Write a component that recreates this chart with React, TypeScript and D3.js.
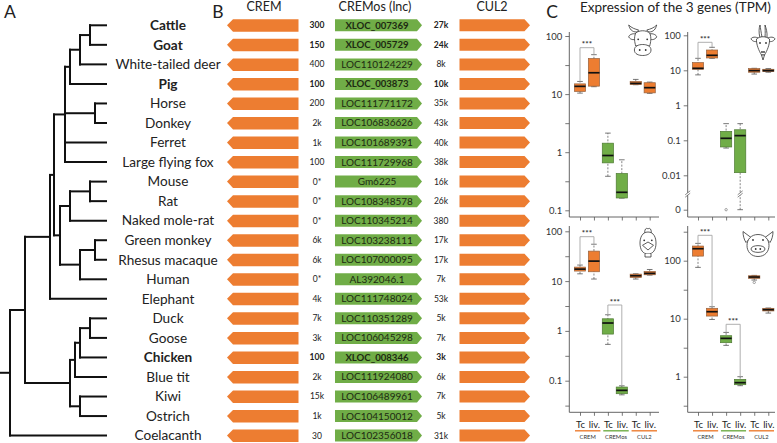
import React, { useRef, useEffect } from 'react';
import * as d3 from 'd3';

const FONT = 'Lato, Carlito, sans-serif';
const ORANGE = '#ed7d31';
const GREEN = '#70ad47';

// Panel A + B rows
const species = ['Cattle', 'Goat', 'White-tailed deer', 'Pig', 'Horse', 'Donkey', 'Ferret', 'Large flying fox', 'Mouse', 'Rat', 'Naked mole-rat', 'Green monkey', 'Rhesus macaque', 'Human', 'Elephant', 'Duck', 'Goose', 'Chicken', 'Blue tit', 'Kiwi', 'Ostrich', 'Coelacanth'];
const cremDistance = ['300', '150', '400', '100', '200', '2k', '1k', '100', '0*', '0*', '0*', '6k', '6k', '0*', '4k', '7k', '3k', '100', '2k', '15k', '1k', '30'];
const lncNames = ['XLOC_007369', 'XLOC_005729', 'LOC110124229', 'XLOC_003873', 'LOC111771172', 'LOC106836626', 'LOC101689391', 'LOC111729968', 'Gm6225', 'LOC108348578', 'LOC110345214', 'LOC103238111', 'LOC107000095', 'AL392046.1', 'LOC111748024', 'LOC110351289', 'LOC106045298', 'XLOC_008346', 'LOC111924080', 'LOC106489961', 'LOC104150012', 'LOC102356018'];
const cul2Distance = ['27k', '24k', '8k', '10k', '35k', '43k', '40k', '38k', '16k', '26k', '380', '17k', '17k', '7k', '53k', '5k', '7k', '3k', '6k', '7k', '5k', '31k'];
const boldSpecies = ['Cattle', 'Goat', 'Pig', 'Chicken'];

// tree: d = node depth, leaves sit at leafDepth
interface TreeNode { name?: string; d?: number; children?: TreeNode[] }
const leafDepth = 53;
const leaf = (name: string): TreeNode => ({ name });
const tree: TreeNode = {
  d: 5, children: [
    {
      d: 12.5, children: [
        {
          d: 25, children: [
            {
              d: 27, children: [
                {
                  d: 32.5, children: [
                    {
                      d: 35, children: [
                        { d: 40, children: [{ d: 45, children: [leaf('Cattle'), leaf('Goat')] }, leaf('White-tailed deer')] },
                        leaf('Pig'),
                      ],
                    },
                    { d: 47.5, children: [leaf('Horse'), leaf('Donkey')] },
                    leaf('Ferret'),
                    leaf('Large flying fox'),
                  ],
                },
                {
                  d: 30, children: [
                    { d: 35, children: [{ d: 45, children: [leaf('Mouse'), leaf('Rat')] }, leaf('Naked mole-rat')] },
                    { d: 40, children: [{ d: 47.5, children: [leaf('Green monkey'), leaf('Rhesus macaque')] }, leaf('Human')] },
                  ],
                },
              ],
            },
            leaf('Elephant'),
          ],
        },
        {
          d: 35, children: [
            {
              d: 37.5, children: [
                { d: 40, children: [{ d: 45, children: [leaf('Duck'), leaf('Goose')] }, leaf('Chicken')] },
                leaf('Blue tit'),
              ],
            },
            { d: 40, children: [leaf('Kiwi'), leaf('Ostrich')] },
          ],
        },
      ],
    },
    leaf('Coelacanth'),
  ],
};

// Panel C: [low whisker, q1, median, q3, high whisker]
type Box = number[];
const cattleBoxes: Box[] = [[10.4, 11.1, 13.6, 15, 16.5], [13.4, 13.7, 23.3, 41, 47.7], [0.385, 0.655, 0.877, 1.43, 2.13], [0.162, 0.163, 0.204, 0.43, 0.74], [14.5, 14.6, 15.3, 16.5, 17.9], [10.3, 10.5, 12.9, 15.7, 16.1]];
const goatBoxes: Box[] = [[7.4, 10.7, 11.4, 16.6, 22], [22, 22.5, 26.8, 38, 45.4], [0.06, 0.0645, 0.114, 0.18, 0.299], [0, 0.0119, 0.136, 0.2, 0.299], [7.8, 8.8, 9.8, 11.2, 11.4], [8.8, 9.2, 9.8, 10.7, 11.2]];
const chickenBoxes: Box[] = [[14, 15.9, 17.4, 19.1, 21], [11, 15.4, 25.2, 40, 55], [0.536, 0.863, 1.44, 1.75, 2.11], [0.052, 0.0548, 0.064, 0.0746, 0.079], [11, 11.8, 12.8, 13.8, 14], [13.2, 13.4, 14.3, 15.6, 17.1]];
const pigBoxes: Box[] = [[76.7, 120, 161, 179, 199], [9.7, 11.1, 13.2, 15.1, 16.1], [3.47, 3.86, 4.58, 5.09, 5.8], [0.7, 0.728, 0.789, 0.9, 1.0], [46.4, 49.6, 52.3, 55, 55.8], [12.5, 13.6, 14.3, 15.1, 15.3]];
const sampleLabels = ['Tc', 'liv.', 'Tc', 'liv.', 'Tc', 'liv.'];
const groupLabels = ['CREM', 'CREMos', 'CUL2'];
const groupColors = [ORANGE, GREEN, ORANGE];

interface Panel {
  boxes: Box[];
  left: number;
  right: number;
  xRange: [number, number];
  top: number;
  bottom: number;
  domain: [number, number];
  range: [number, number];
  ticks: number[];
  minor: number[];
  zeroY?: number;
  breakY?: number;
  outliers?: [number, number][];
  brackets: [number, number, number, number, number][]; // box a, box b, top px, leg a value, leg b value
  labels?: boolean;
  groupRange?: [number, number];
}

const panels: Panel[] = [
  {
    boxes: cattleBoxes, left: 569.3, right: 659, xRange: [580, 649.7], top: 32, bottom: 217,
    domain: [0.1, 100], range: [210.3, 36], ticks: [100, 10, 1, 0.1], minor: [31.6, 3.16, 0.316],
    brackets: [[0, 1, 47.7, 16.5, 47.7]],
  },
  {
    boxes: goatBoxes, left: 687.7, right: 775, xRange: [698, 768.3], top: 32, bottom: 217,
    domain: [0.01, 100], range: [175.3, 35.3], ticks: [100, 10, 1, 0.1, 0.01], minor: [],
    zeroY: 209.7, breakY: 194, outliers: [[2, 0]],
    brackets: [[0, 1, 42.3, 22, 45.4]],
  },
  {
    boxes: chickenBoxes, left: 569.3, right: 659, xRange: [580, 649.7], top: 226, bottom: 412.3,
    domain: [0.1, 100], range: [380.7, 231.3], ticks: [100, 10, 1, 0.1], minor: [31.6, 3.16, 0.316, 0.0316],
    brackets: [[0, 1, 236.7, 21, 55], [2, 3, 305, 2.11, 0.079]], labels: true,
    groupRange: [575, 657],
  },
  {
    boxes: pigBoxes, left: 687.7, right: 775, xRange: [698, 768.3], top: 226, bottom: 412.3,
    domain: [1, 100], range: [376.7, 260.7], ticks: [100, 10, 1], minor: [316, 31.6, 3.16, 0.316],
    outliers: [[4, 42.3]],
    brackets: [[0, 1, 235.3, 199, 16.1], [2, 3, 324.3, 5.8, 1.0]], labels: true,
    groupRange: [693, 774],
  },
];

const drawIcons = (svg: d3.Selection<SVGSVGElement, unknown, null, undefined>) => {
  const g = svg.append('g').attr('fill', 'none').attr('stroke', '#333').attr('stroke-width', 0.8);
  const icon = (x: number, y: number, paths: string[], dots: [number, number][]) => {
    const ig = g.append('g').attr('transform', `translate(${x},${y})`);
    paths.forEach(p => ig.append('path').attr('d', p).attr('fill', 'white'));
    dots.forEach(([cx, cy]) => ig.append('circle').attr('cx', cx).attr('cy', cy).attr('r', 0.9).attr('fill', '#333').attr('stroke', 'none'));
  };
  // cow
  icon(642.7, 41, [
    'M-6,-9 C-11,-9 -13,-12 -14,-16 C-11,-13 -8,-12 -4,-11 Z',
    'M6,-9 C11,-9 13,-12 14,-16 C11,-13 8,-12 4,-11 Z',
    'M-7,-7 C-10,-8 -14,-6 -14,-4 C-12,-1 -9,-1 -7,-2 Z',
    'M7,-7 C10,-8 14,-6 14,-4 C12,-1 9,-1 7,-2 Z',
    'M-7,-8 C-3,-11 3,-11 7,-8 C9,-3 8,1 7,5 L-7,5 C-8,1 -9,-3 -7,-8 Z',
    'M-8.3,9 C-8.3,5 -4,3.5 0,3.5 C4,3.5 8.3,5 8.3,9 C8.3,13 4,14.5 0,14.5 C-4,14.5 -8.3,13 -8.3,9 Z',
  ], [[-4.5, -1.7], [4.5, -1.7], [-3, 9], [3, 9]]);
  // goat
  icon(763, 42, [
    'M-3,-4 C-4.5,-10 -4,-14 -3,-17 C-2.5,-14 -2,-10 -1,-5 Z',
    'M2,-5 C2.5,-10 2,-14 2,-17 C3,-14 4.5,-10 4,-4 Z',
    'M-5,-4 C-9,-6 -12,-4 -12,-3 C-10,0 -7,0 -5,-1 Z',
    'M5,-4 C9,-6 12,-4 12,-3 C10,0 7,0 5,-1 Z',
    'M-6.5,-3 C-3,-6 3,-6 6.5,-3 C7,2 4,9 1.5,13 L-1.5,13 C-4,9 -7,2 -6.5,-3 Z',
    'M-1.5,13 L1.5,13 L0,18 Z',
  ], [[-3, 1], [3, 1], [-1, 10], [1, 10]]);
  // chicken
  icon(648, 244, [
    'M-3,-10 C-4,-14 -2,-17 0,-15 C2,-17 4,-14 3,-10 Z',
    'M0,-12 C6,-12 8,-6 8,-1 C8,6 5,10 0,10 C-5,10 -8,6 -8,-1 C-8,-6 -6,-12 0,-12 Z',
    'M-5.5,1.3 L0,-2 L5.5,1.3 L0,6 Z',
    'M-3,10 L-3,13 L3,13 L3,10',
  ], [[-3.8, -3.7], [3.8, -3.7]]);
  // pig
  icon(758, 245.5, [
    'M-7,-8 L-15,-14 C-15,-10 -14,-6 -12,-3 Z',
    'M7,-8 L15,-14 C15,-10 14,-6 12,-3 Z',
    'M0,-11 C7,-11 11,-6 11,0 C11,6 7,11 0,11 C-7,11 -11,6 -11,0 C-11,-6 -7,-11 0,-11 Z',
    'M-7,3.5 C-7,-1 7,-1 7,3.5 C7,8 -7,8 -7,3.5 Z',
  ], [[-5, -5.5], [5, -5.5], [-2.3, 3.5], [2.3, 3.5]]);
};

export default function App() {
  const svgRef = useRef<SVGSVGElement | null>(null);

  useEffect(() => {
    if (!svgRef.current) return;
    const svg = d3.select(svgRef.current);
    svg.selectAll('*').remove(); // Clear previous render
    svg.style('font-family', FONT);

    const yRow = d3.scalePoint<string>().domain(species).range([25.3, 435.6]);
    const xTree = d3.scaleLinear().domain([0, leafDepth]).range([0, 106]);

    // Panel letters
    [['A', 10, 18], ['B', 218, 18], ['C', 552, 18]].forEach(([t, x, y]) => {
      svg.append('text').attr('x', x).attr('y', y).attr('text-anchor', 'middle')
        .attr('font-size', 17.5).attr('fill', '#222').text(t as string);
    });

    // Panel A: tree
    const root = d3.hierarchy(tree);
    const nodeY = new Map<d3.HierarchyNode<TreeNode>, number>();
    root.eachAfter(n => {
      if (!n.children) nodeY.set(n, yRow(n.data.name!)!);
      else nodeY.set(n, (nodeY.get(n.children[0])! + nodeY.get(n.children[n.children.length - 1])!) / 2);
    });
    const nodeX = (n: d3.HierarchyNode<TreeNode>) => xTree(n.children ? n.data.d! : leafDepth);
    const treeG = svg.append('g').attr('fill', 'none').attr('stroke', '#111').attr('stroke-width', 2).attr('stroke-linecap', 'square');
    root.descendants().forEach(n => {
      const x = nodeX(n);
      const y = nodeY.get(n)!;
      const px = n.parent ? nodeX(n.parent) : 0;
      treeG.append('path').attr('d', `M${px},${y}H${x}`);
      if (n.children) {
        treeG.append('path').attr('d', `M${x},${nodeY.get(n.children[0])}V${nodeY.get(n.children[n.children.length - 1])}`);
      }
    });

    // Species labels + Panel B rows
    const textAt = (x: number, y: number, t: string, size: number, bold: boolean, fill = '#222') =>
      svg.append('text').attr('x', x).attr('y', y).attr('dy', '0.35em').attr('text-anchor', 'middle')
        .attr('font-size', size).attr('font-weight', bold ? 700 : 400).attr('fill', fill).text(t);

    textAt(264, 7, 'CREM', 12.5, false);
    textAt(375, 7, 'CREMos (lnc)', 12.5, false);
    textAt(492, 7, 'CUL2', 12.5, false);

    species.forEach((s, i) => {
      const y = yRow(s)!;
      const bold = boldSpecies.includes(s);
      textAt(168, y, s, 13.6, bold);
      svg.append('path').attr('fill', ORANGE)
        .attr('d', `M227,${y}L233,${y - 6}H298.5V${y + 6.5}H233Z`);
      textAt(317, y, cremDistance[i], 8.5, bold);
      svg.append('path').attr('fill', GREEN)
        .attr('d', `M335,${y - 6}H417L422,${y}L417,${y + 6}H335Z`);
      textAt(377, y, lncNames[i], bold ? 9.6 : 10, bold, '#1d2a12');
      textAt(441, y, cul2Distance[i], 8.5, bold);
      svg.append('path').attr('fill', ORANGE)
        .attr('d', `M459.5,${y - 6}H524.5L530,${y}L524.5,${y + 6}H459.5Z`);
    });

    // Panel C
    svg.append('text').attr('x', 580).attr('y', 12.4).attr('font-size', 13.5).attr('fill', '#222').text('Expression of the 3 genes (TPM)');

    panels.forEach(p => {
      const g = svg.append('g');
      const log = d3.scaleLog().domain(p.domain).range(p.range);
      const y = (v: number) => (v === 0 ? p.zeroY! : log(v));
      const x = d3.scalePoint<number>().domain(d3.range(6)).range(p.xRange);

      // y axis
      const axis = g.append('g').attr('transform', `translate(${p.left},0)`)
        .call(d3.axisLeft(log).tickValues(p.ticks).tickFormat(d => String(d)).tickSize(4).tickPadding(3));
      if (p.minor.length) {
        axis.call(s => s.append('g').call(d3.axisLeft(log).tickValues(p.minor).tickFormat(() => '').tickSize(4)));
      }
      if (p.zeroY !== undefined) {
        axis.call(s => s.append('g').call(
          d3.axisLeft(d3.scaleOrdinal<number, number>().domain([0]).range([p.zeroY!]) as any)
            .tickFormat(() => '0').tickSize(4).tickPadding(3)));
      }
      axis.selectAll('.domain').remove();
      axis.selectAll('line').attr('stroke', '#555').attr('stroke-width', 0.8);
      axis.selectAll('text').attr('font-size', 9.5).attr('font-family', FONT).attr('fill', '#333');

      const axisLine = (x1: number, y1: number, x2: number, y2: number) =>
        g.append('line').attr('x1', x1).attr('y1', y1).attr('x2', x2).attr('y2', y2)
          .attr('stroke', '#555').attr('stroke-width', 0.9);
      axisLine(p.left, p.top, p.left, p.bottom);
      axisLine(p.left, p.bottom, p.right, p.bottom);

      // x axis
      const xAxis = g.append('g').attr('transform', `translate(0,${p.bottom})`)
        .call(d3.axisBottom(x).tickSize(3.5).tickPadding(5).tickFormat(i => (p.labels ? sampleLabels[i] : '')));
      xAxis.select('.domain').remove();
      xAxis.selectAll('line').attr('stroke', '#555').attr('stroke-width', 0.8);
      xAxis.selectAll('text').attr('font-size', 9.5).attr('font-family', FONT).attr('fill', '#222');

      if (p.groupRange) {
        const group = d3.scaleBand<number>().domain([0, 1, 2]).range(p.groupRange).paddingInner(0.1);
        groupLabels.forEach((label, i) => {
          g.append('line').attr('x1', group(i)!).attr('x2', group(i)! + group.bandwidth())
            .attr('y1', p.bottom + 18.5).attr('y2', p.bottom + 18.5).attr('stroke', groupColors[i]).attr('stroke-width', 1.4);
          g.append('text').attr('x', group(i)! + group.bandwidth() / 2).attr('y', p.bottom + 27)
            .attr('text-anchor', 'middle').attr('font-size', 5.8).attr('fill', '#333').text(label);
        });
      }

      // axis break
      const drawBreak = (bx: number) => {
        g.append('rect').attr('x', bx - 3).attr('y', p.breakY! - 1.2).attr('width', 6).attr('height', 2.4).attr('fill', 'white');
        [-1.2, 1.2].forEach(o => g.append('line')
          .attr('x1', bx - 2.5).attr('x2', bx + 2.5).attr('y1', p.breakY! + o + 2).attr('y2', p.breakY! + o - 2)
          .attr('stroke', '#555').attr('stroke-width', 0.7));
      };
      if (p.breakY !== undefined) drawBreak(p.left);

      // boxes
      p.boxes.forEach((b, i) => {
        const [lo, q1, med, q3, hi] = b;
        const cx = x(i)!;
        const fill = i === 2 || i === 3 ? GREEN : ORANGE;
        const edge = i === 2 || i === 3 ? '#4e7a33' : '#95623f';
        const boxG = g.append('g');
        boxG.append('line').attr('x1', cx).attr('x2', cx).attr('y1', y(lo)).attr('y2', y(hi))
          .attr('stroke', '#777').attr('stroke-width', 0.9).attr('stroke-dasharray', '2,1.5');
        [lo, hi].forEach(v => boxG.append('line').attr('x1', cx - 2.8).attr('x2', cx + 2.8).attr('y1', y(v)).attr('y2', y(v))
          .attr('stroke', '#555').attr('stroke-width', 0.8));
        boxG.append('rect').attr('x', cx - 5.6).attr('width', 11.2).attr('y', y(q3)).attr('height', Math.max(y(q1) - y(q3), 0.5))
          .attr('fill', fill).attr('stroke', edge).attr('stroke-width', 0.7);
        boxG.append('line').attr('x1', cx - 5.6).attr('x2', cx + 5.6).attr('y1', y(med)).attr('y2', y(med))
          .attr('stroke', '#111').attr('stroke-width', 1.7);
        if (p.breakY !== undefined && lo === 0) drawBreak(cx);
      });

      // outliers
      (p.outliers || []).forEach(([i, v]) => {
        g.append('circle').attr('cx', x(i)!).attr('cy', y(v)).attr('r', 1.2)
          .attr('fill', 'none').attr('stroke', '#666').attr('stroke-width', 0.6);
      });

      // significance brackets
      p.brackets.forEach(([a, b, top, va, vb]) => {
        g.append('path').attr('fill', 'none').attr('stroke', '#a6a6a6').attr('stroke-width', 0.9)
          .attr('d', `M${x(a)},${y(va)}V${top}H${x(b)}V${y(vb)}`);
        g.append('text').attr('x', (x(a)! + x(b)!) / 2).attr('y', top - 0.5).attr('text-anchor', 'middle')
          .attr('font-size', 8).attr('font-weight', 700).attr('fill', '#333').text('***');
      });
    });

    drawIcons(svg as any);
  }, []);

  return (
    <svg ref={svgRef} width={777} height={443} style={{ position: 'absolute', left: 0, top: 0, background: 'white' }}></svg>
  );
}
